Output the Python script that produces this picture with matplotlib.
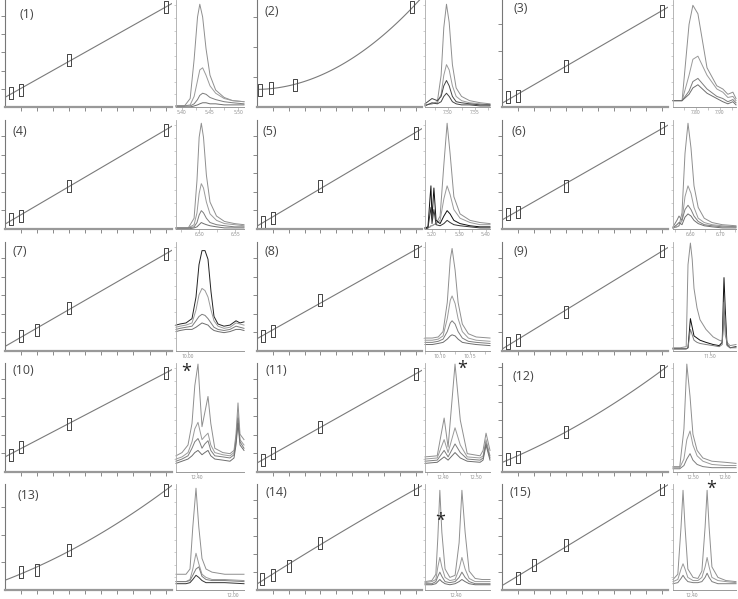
import numpy as np
import matplotlib
matplotlib.use("Agg")
import matplotlib.pyplot as plt
from matplotlib.ticker import AutoMinorLocator

plt.rcParams["font.family"] = ["Open Sans", "DejaVu Sans"]

W, H = 738, 599

# ---- calibration curves: level vs. response (% of axis height) ----
lv_a = [0.4, 1, 4, 10]
lv_b = [1, 2, 4, 10]
cal_x = [lv_a, [0.2, 0.9, 2.4, 9.8], lv_a, lv_a, lv_a, lv_a, lv_b, lv_a,
         lv_a, lv_a, lv_a, lv_a, lv_b, [0.3, 1, 2, 4, 10], lv_b]
cal_y = [
    [13, 16, 44, 93], [16, 18, 21, 93], [9, 10, 38, 90],
    [9, 12, 39, 91], [6, 10, 39, 88], [14, 16, 39, 93],
    [14, 19, 39, 89], [14, 18, 47, 92], [7, 10, 36, 92],
    [16, 23, 44, 91], [11, 17, 41, 90], [12, 14, 37, 93],
    [17, 19, 38, 94], [10, 14, 23, 44, 95], [11, 24, 42, 95],
]
cal_deg = [1, 2, 1, 1, 1, 1, 1, 1, 1, 1, 1, 2, 2, 2, 1]
cal_ystep = [17, 28, 26, 17, 17, 17, 17, 17, 17, 17, 17, 16, 26, 17, 17]
cal_names = ["(%d)" % i for i in range(1, 16)]
label_pos = [(0.13, 0.86), (0.09, 0.89), (0.115, 0.92), (0.09, 0.89), (0.08, 0.89),
             (0.10, 0.89), (0.09, 0.91), (0.09, 0.91), (0.11, 0.91), (0.11, 0.93),
             (0.12, 0.93), (0.127, 0.88), (0.14, 0.89), (0.12, 0.92), (0.11, 0.92)]

# ---- chromatograms: retention time (min) and traces (% of axis height) ----
t1 = [5.390, 5.405, 5.415, 5.422, 5.428, 5.432, 5.437, 5.443, 5.450, 5.460, 5.475, 5.490, 5.510]
y1 = [[1, 1, 8, 45, 85, 97, 85, 55, 30, 16, 9, 6, 5],
      [1, 1, 2, 10, 25, 35, 37, 30, 20, 13, 8, 6, 5],
      [1, 1, 1, 3, 7, 11, 13, 12, 9, 7, 5, 4, 3],
      [0, 0, 0, 1, 2, 3, 4, 4, 3, 3, 2, 2, 2]]
t2 = [7.457, 7.470, 7.480, 7.487, 7.492, 7.497, 7.502, 7.508, 7.515, 7.525, 7.540, 7.560, 7.578]
y2 = [[2, 3, 5, 30, 75, 97, 80, 40, 18, 10, 6, 4, 3],
      [2, 3, 4, 12, 30, 40, 35, 20, 10, 6, 4, 3, 2],
      [3, 8, 6, 10, 20, 25, 20, 10, 5, 4, 3, 2, 2],
      [1, 4, 3, 5, 10, 13, 10, 5, 3, 2, 2, 1, 1]]
t3 = [7.704, 7.742, 7.771, 7.787, 7.808, 7.846, 7.887, 7.912, 7.933, 7.954, 7.967]
y3 = [[6, 6, 78, 96, 88, 37, 20, 17, 12, 14, 8],
      [6, 6, 30, 45, 48, 30, 17, 14, 9, 10, 6],
      [6, 6, 15, 24, 27, 17, 10, 8, 5, 7, 4],
      [6, 6, 12, 18, 21, 13, 8, 5, 3, 5, 2]]
t4 = [6.468, 6.485, 6.493, 6.497, 6.500, 6.503, 6.506, 6.510, 6.515, 6.524, 6.535, 6.549, 6.562]
y4 = [[1, 1, 10, 45, 85, 98, 85, 50, 25, 12, 7, 5, 4],
      [1, 1, 4, 15, 33, 42, 38, 25, 14, 8, 5, 4, 3],
      [1, 1, 2, 6, 13, 17, 15, 10, 6, 4, 3, 2, 2],
      [0, 0, 1, 2, 4, 6, 5, 4, 3, 2, 1, 1, 1]]
t5 = [5.174, 5.185, 5.193, 5.196, 5.200, 5.207, 5.215, 5.230, 5.244, 5.256, 5.267, 5.281,
      5.304, 5.341, 5.378, 5.415]
y5 = [[1, 1, 2, 3, 3, 4, 5, 12, 60, 98, 70, 30, 14, 8, 6, 5],
      [1, 1, 2, 3, 3, 4, 5, 8, 28, 40, 32, 18, 10, 6, 4, 4],
      [1, 2, 30, 40, 10, 38, 8, 5, 12, 17, 14, 8, 5, 3, 2, 2],
      [0, 1, 15, 20, 5, 18, 4, 3, 5, 8, 6, 4, 3, 2, 1, 1]]
t6 = [6.543, 6.556, 6.563, 6.573, 6.583, 6.593, 6.603, 6.613, 6.627, 6.647, 6.673, 6.707, 6.753]
y6 = [[1, 2, 3, 15, 70, 98, 75, 40, 20, 10, 6, 4, 3],
      [1, 2, 3, 8, 30, 40, 33, 20, 10, 6, 4, 3, 2],
      [2, 8, 12, 8, 18, 22, 18, 12, 7, 4, 3, 2, 2],
      [1, 4, 6, 4, 11, 14, 12, 8, 5, 3, 2, 1, 1]]
t7 = [9.976, 9.984, 9.996, 10.008, 10.016, 10.022, 10.028, 10.034, 10.040, 10.046, 10.052,
      10.060, 10.072, 10.084, 10.096, 10.104, 10.112]
y7 = [[24, 25, 26, 30, 50, 80, 93, 93, 85, 55, 32, 25, 23, 24, 28, 26, 27],
      [22, 23, 24, 26, 38, 52, 58, 56, 50, 38, 28, 23, 21, 22, 26, 25, 24],
      [20, 21, 22, 23, 28, 32, 34, 33, 30, 26, 22, 20, 19, 20, 23, 22, 21],
      [18, 19, 20, 20, 22, 24, 26, 25, 24, 21, 19, 18, 17, 18, 20, 20, 19]]
t8 = [10.075, 10.087, 10.097, 10.105, 10.112, 10.117, 10.120, 10.125, 10.130, 10.137, 10.147,
      10.160, 10.183]
y8 = [[12, 12, 13, 18, 45, 85, 95, 75, 45, 25, 16, 13, 12],
      [10, 10, 11, 14, 30, 47, 51, 44, 30, 18, 12, 10, 9],
      [8, 8, 9, 11, 18, 26, 28, 25, 18, 12, 9, 8, 7],
      [6, 6, 7, 8, 11, 14, 15, 14, 11, 8, 7, 6, 5]]
t9 = [11.438, 11.450, 11.460, 11.463, 11.467, 11.470, 11.473, 11.478, 11.483, 11.493, 11.505,
      11.515, 11.520, 11.522, 11.523, 11.525, 11.528, 11.533, 11.543]
y9 = [[3, 3, 4, 80, 100, 85, 58, 40, 29, 20, 13, 10, 9, 20, 35, 15, 8, 5, 6],
      [2, 2, 2, 3, 30, 22, 14, 12, 10, 8, 6, 5, 8, 50, 68, 40, 6, 3, 4],
      [2, 2, 2, 3, 20, 15, 10, 8, 7, 6, 5, 4, 6, 30, 45, 25, 5, 3, 3]]
t10 = [12.348, 12.363, 12.378, 12.388, 12.395, 12.403, 12.408, 12.413, 12.420, 12.428, 12.435,
       12.445, 12.465, 12.483, 12.493, 12.498, 12.503, 12.508, 12.518]
y10 = [[15, 18, 25, 45, 80, 100, 70, 42, 55, 70, 45, 22, 18, 17, 20, 35, 64, 35, 30],
       [12, 14, 18, 28, 40, 46, 38, 30, 33, 36, 25, 18, 16, 15, 18, 30, 55, 30, 25],
       [10, 12, 15, 22, 28, 31, 27, 22, 26, 29, 20, 15, 14, 13, 16, 28, 50, 28, 22],
       [8, 10, 12, 15, 18, 20, 18, 16, 18, 20, 15, 12, 11, 10, 13, 25, 45, 25, 20]]
t11 = [12.345, 12.382, 12.403, 12.415, 12.436, 12.452, 12.473, 12.512, 12.521, 12.530, 12.542]
y11 = [[14, 15, 50, 23, 100, 48, 17, 15, 20, 36, 20],
       [12, 13, 30, 18, 41, 25, 14, 13, 15, 30, 15],
       [10, 11, 20, 14, 26, 18, 12, 11, 13, 27, 13],
       [8, 9, 14, 11, 18, 13, 10, 9, 11, 25, 11]]
t12 = [12.438, 12.459, 12.472, 12.481, 12.491, 12.500, 12.513, 12.531, 12.559, 12.600, 12.634]
y12 = [[5, 5, 40, 100, 70, 35, 20, 13, 10, 9, 8],
       [4, 4, 12, 30, 38, 25, 15, 10, 7, 6, 6],
       [3, 3, 6, 12, 17, 11, 7, 5, 4, 4, 4]]
t13 = [11.858, 11.883, 11.893, 11.900, 11.908, 11.915, 11.923, 11.933, 11.948, 11.980, 12.028]
y13 = [[15, 15, 20, 60, 97, 60, 30, 20, 17, 15, 15],
       [8, 8, 10, 20, 35, 25, 15, 12, 10, 10, 9],
       [8, 8, 9, 14, 20, 22, 13, 10, 9, 9, 8],
       [6, 6, 7, 10, 14, 12, 9, 7, 7, 7, 6]]
t14 = [12.323, 12.340, 12.350, 12.355, 12.360, 12.365, 12.373, 12.385, 12.398, 12.408, 12.415,
       12.423, 12.433, 12.448, 12.465, 12.485]
y14 = [[8, 9, 15, 50, 95, 55, 20, 12, 14, 45, 95, 55, 18, 11, 10, 10],
       [7, 8, 10, 22, 31, 22, 12, 9, 10, 20, 31, 20, 11, 8, 8, 8],
       [6, 6, 8, 13, 17, 13, 8, 7, 8, 12, 17, 12, 8, 6, 6, 6],
       [5, 5, 6, 8, 10, 8, 6, 5, 6, 8, 10, 8, 6, 5, 5, 5]]
t15 = [12.353, 12.365, 12.373, 12.378, 12.383, 12.390, 12.403, 12.415, 12.425, 12.433, 12.438,
       12.443, 12.450, 12.465, 12.485, 12.510]
y15 = [[10, 15, 60, 95, 60, 20, 12, 11, 18, 60, 95, 60, 22, 12, 9, 8],
       [8, 10, 20, 25, 20, 12, 9, 9, 12, 22, 31, 22, 12, 9, 8, 7],
       [6, 7, 11, 14, 11, 8, 7, 7, 8, 12, 16, 12, 8, 6, 6, 6]]

chrom_t = [t1, t2, t3, t4, t5, t6, t7, t8, t9, t10, t11, t12, t13, t14, t15]
chrom_y = [y1, y2, y3, y4, y5, y6, y7, y8, y9, y10, y11, y12, y13, y14, y15]
chrom_ticks = [[5.40, 5.45, 5.50], [7.50, 7.55], [7.80, 7.90], [6.50, 6.55],
               [5.20, 5.30, 5.40], [6.60, 6.70], [10.00], [10.10, 10.15], [11.50],
               [12.40], [12.40, 12.50], [12.50, 12.60], [12.00], [12.40], [12.40]]

# trace colours (special dark traces in a few panels)
grey = ["#8f8f8f", "#9a9a9a", "#7d7d7d", "#6e6e6e"]
dark = {(1, 2): "#444444", (1, 3): "#444444", (4, 2): "#111111", (4, 3): "#333333",
        (6, 0): "#222222", (8, 1): "#111111", (12, 3): "#333333"}

# asterisks: panel index -> position in axes fraction
stars = {9: (0.15, 0.92), 10: (0.57, 0.95), 13: (0.23, 0.65), 14: (0.60, 0.95)}

# pixel boxes of the layout
cal_cols = [(5, 172), (257, 422), (502, 668)]
chrom_cols = [(176, 244), (425, 490), (673, 736)]
rows = [(0, 107), (120, 229), (242, 351), (363, 472), (484, 590)]


def add_box(fig, x0, x1, y0, y1):
    return fig.add_axes([x0 / W, 1 - y1 / H, (x1 - x0) / W, (y1 - y0) / H])


rect_marker = [(-0.2, -0.5), (0.2, -0.5), (0.2, 0.5), (-0.2, 0.5), (-0.2, -0.5)]

fig = plt.figure(figsize=(W / 100, H / 100), dpi=100)

for i in range(15):
    r, c = divmod(i, 3)
    y0, y1 = rows[r]

    # calibration panel
    ax = add_box(fig, cal_cols[c][0], cal_cols[c][1], y0, y1)
    xs = np.array(cal_x[i], dtype=float)
    ys = np.array(cal_y[i], dtype=float)
    coef = np.polyfit(xs, ys, cal_deg[i])
    xf = np.linspace(0, 10.4, 120)
    ax.plot(xf, np.polyval(coef, xf), color="#7a7a7a", lw=0.8)
    ax.plot(xs, ys, linestyle="none", marker=rect_marker, ms=8,
            mfc="none", mec="#444444", mew=0.7)
    ax.set_xlim(0, 10.4)
    ax.set_ylim(0, 100)
    ax.set_xticks(np.arange(1, 11))
    ax.set_yticks(np.arange(cal_ystep[i], 100, cal_ystep[i]))
    ax.tick_params(length=3, width=0.6, color="#777777", labelbottom=False, labelleft=False)
    for s in ["top", "right"]:
        ax.spines[s].set_visible(False)
    ax.spines["left"].set_color("#777777")
    ax.spines["left"].set_linewidth(0.8)
    ax.spines["bottom"].set_color("#999999")
    ax.spines["bottom"].set_linewidth(1.6)
    ax.patch.set_alpha(0)
    lx, ly = label_pos[i]
    ax.text(lx, ly, cal_names[i], transform=ax.transAxes, fontsize=9,
            color="#444444", ha="center", va="center")

    # chromatogram panel
    ax2 = add_box(fig, chrom_cols[c][0], chrom_cols[c][1], y0, y1)
    for k, tr in enumerate(chrom_y[i]):
        col = dark.get((i, k), grey[k % len(grey)])
        ax2.plot(chrom_t[i], tr, color=col, lw=0.7, clip_on=False)
    ax2.set_xlim(chrom_t[i][0], chrom_t[i][-1])
    ax2.set_ylim(0, 101)
    ax2.set_xticks(chrom_ticks[i])
    ax2.set_xticklabels(["%.2f" % v for v in chrom_ticks[i]])
    ax2.xaxis.set_minor_locator(AutoMinorLocator(2))
    ax2.set_yticks(np.arange(12, 100, 12))
    ax2.tick_params(axis="x", which="both", length=2, width=0.4, color="#999999",
                    labelsize=3.5, labelcolor="#888888", pad=0.5)
    ax2.tick_params(axis="y", length=1.5, width=0.4, color="#aaaaaa", labelleft=False)
    for s in ["top", "right"]:
        ax2.spines[s].set_visible(False)
    ax2.spines["left"].set_color("#aaaaaa")
    ax2.spines["left"].set_linewidth(0.6)
    ax2.spines["bottom"].set_color("#999999")
    ax2.spines["bottom"].set_linewidth(0.7)
    ax2.patch.set_alpha(0)
    if i in stars:
        sx, sy = stars[i]
        ax2.text(sx, sy, "*", transform=ax2.transAxes, fontsize=13,
                 color="#222222", ha="center", va="center")

fig.savefig("out.png", dpi=100)
